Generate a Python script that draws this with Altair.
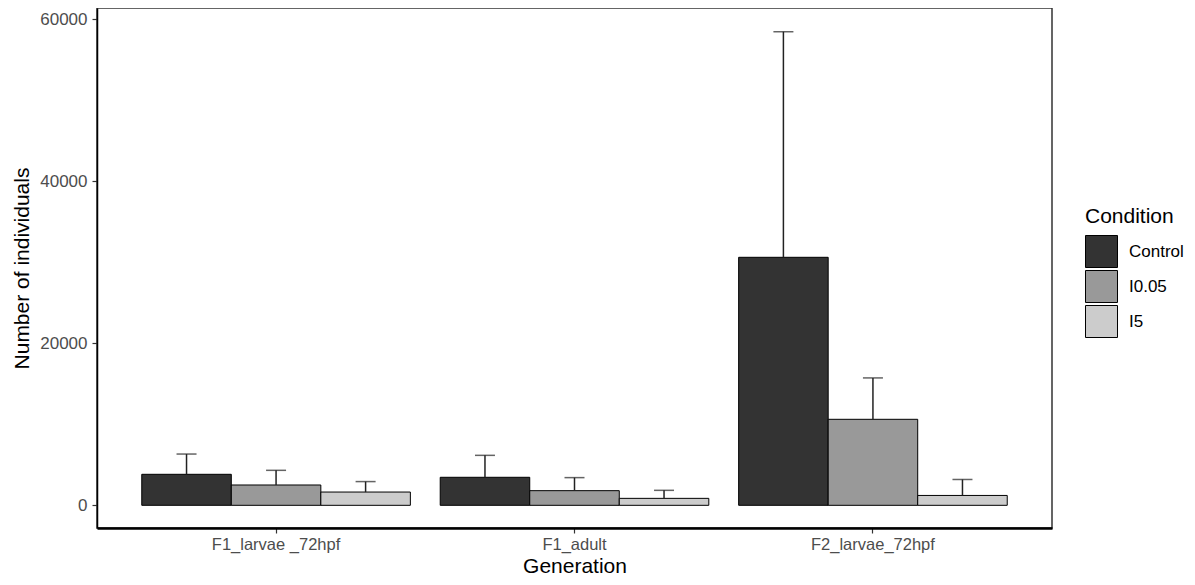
import altair as alt
import pandas as pd

generations = ["F1_larvae _72hpf", "F1_adult", "F2_larvae_72hpf"]
conditions = ["Control", "I0.05", "I5"]
means = {
    "Control": [3830, 3460, 30620],
    "I0.05": [2510, 1810, 10620],
    "I5": [1640, 860, 1220],
}
uppers = {
    "Control": [6330, 6170, 58470],
    "I0.05": [4320, 3420, 15730],
    "I5": [2930, 1850, 3190],
}
fills = ["#333333", "#999999", "#cccccc"]

rows = []
for c in conditions:
    for i, g in enumerate(generations):
        rows.append({"Generation": g, "Condition": c, "mean": means[c][i], "upper": uppers[c][i]})
df = pd.DataFrame(rows)

FONT = "Liberation Sans"

x_enc = alt.X("Generation:N", sort=generations,
              scale=alt.Scale(paddingInner=0.1, paddingOuter=0.15),
              axis=alt.Axis(title="Generation", labelAngle=0, titleY=44.5, labelPadding=3,
                            labelFontSize=16.5,
                            titleBaseline="alphabetic", domainWidth=2.5))
xo_enc = alt.XOffset("Condition:N", sort=conditions,
                     scale=alt.Scale(paddingInner=0, paddingOuter=0))
y_scale = alt.Scale(domain=[-2800, 61400], nice=False, zero=False)

bars = alt.Chart(df).mark_bar(stroke="black", strokeWidth=1).encode(
    x=x_enc,
    xOffset=xo_enc,
    y=alt.Y("mean:Q", scale=y_scale,
            axis=alt.Axis(title="Number of individuals", values=[0, 20000, 40000, 60000],
                          format="d", labelPadding=5,
                          titleX=-69, titleY=260, titleAngle=270, titleAlign="center",
                          titleBaseline="alphabetic", domainWidth=1.5)),
    y2=alt.datum(0),
    fill=alt.Fill("Condition:N", sort=conditions,
                  scale=alt.Scale(domain=conditions, range=fills),
                  legend=alt.Legend(title="Condition", orient="none", legendX=988, legendY=198,
                                    symbolType="square", symbolSize=1024,
                                    symbolStrokeColor="black", symbolStrokeWidth=1,
                                    rowPadding=-3, titlePadding=8, labelOffset=11,
                                    padding=0)),
)

rules = alt.Chart(df).mark_rule(color="#222222", strokeWidth=1.5).encode(
    x=alt.X("Generation:N", sort=generations),
    xOffset=alt.XOffset("Condition:N", sort=conditions),
    y=alt.Y("mean:Q"),
    y2="upper:Q",
)

caps = alt.Chart(df).mark_tick(color="#222222", thickness=1.5, size=20, orient="horizontal").encode(
    x=alt.X("Generation:N", sort=generations),
    xOffset=alt.XOffset("Condition:N", sort=conditions),
    y=alt.Y("upper:Q"),
)

chart = alt.layer(bars, rules, caps).properties(
    width=955, height=520,
    autosize=alt.AutoSizeParams(type="none"),
    padding={"left": 89, "top": 0, "right": 135, "bottom": 49},
).configure_view(
    stroke="#333333", strokeWidth=1.5
).configure_axis(
    labelFont=FONT, titleFont=FONT, labelFontSize=17, titleFontSize=21,
    labelColor="#4d4d4d", titleColor="black", titleFontWeight="normal",
    domainColor="black", tickColor="#333333", tickSize=5, tickWidth=1.2,
    grid=False,
).configure_legend(
    labelFont=FONT, titleFont=FONT, labelFontSize=17, titleFontSize=21,
    labelColor="black", titleColor="black", titleFontWeight="normal",
)

chart.save("out.html", embed_options={"renderer": "svg", "actions": False})
